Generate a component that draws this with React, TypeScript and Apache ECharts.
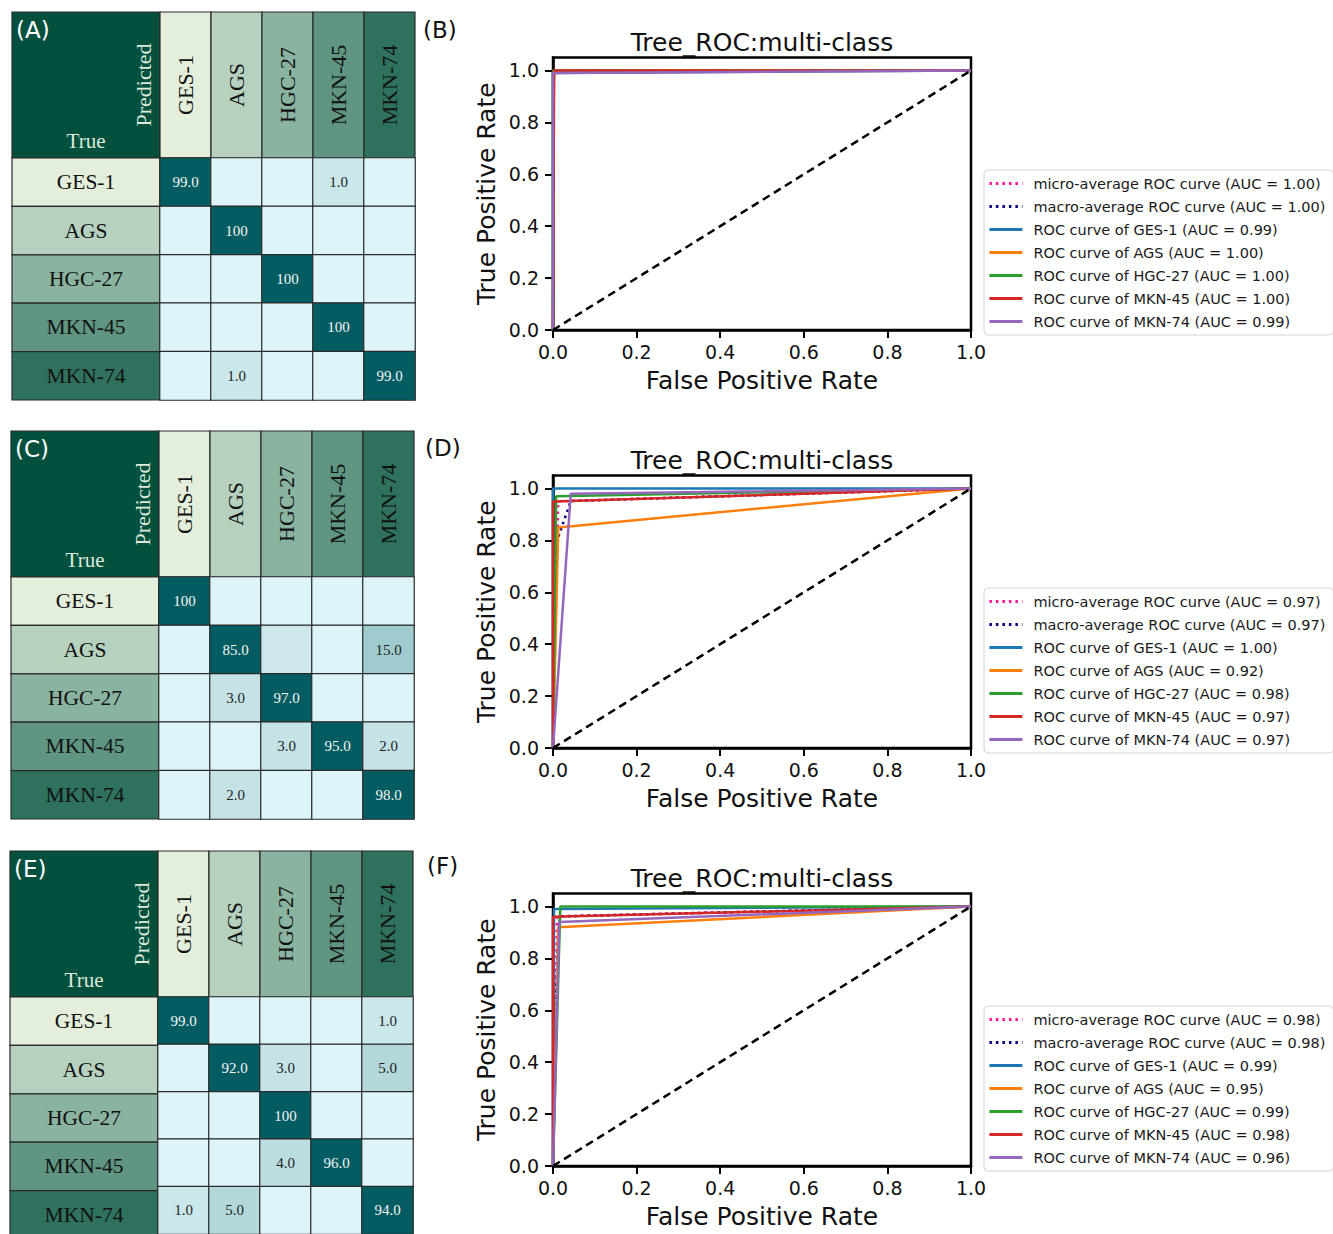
import React, { useEffect, useRef } from "react";
import * as echarts from "echarts";

// ---------- data ----------
const classes = ["GES-1", "AGS", "HGC-27", "MKN-45", "MKN-74"];

// confusion matrices (rows = true, cols = predicted), percent
const matrixA = [
  [99, 0, 0, 1, 0],
  [0, 100, 0, 0, 0],
  [0, 0, 100, 0, 0],
  [0, 0, 0, 100, 0],
  [0, 1, 0, 0, 99],
];
const matrixC = [
  [100, 0, 0, 0, 0],
  [0, 85, 0.2, 0, 15],
  [0, 3, 97, 0, 0],
  [0, 0, 3, 95, 2],
  [0, 2, 0, 0, 98],
];
const matrixE = [
  [99, 0, 0, 0, 1],
  [0, 92, 3, 0, 5],
  [0, 0, 100, 0, 0],
  [0, 0, 4, 96, 0],
  [1, 5, 0, 0, 94],
];

// ROC curves [fpr, tpr]
const microB = [[0, 0], [0.001, 0.996], [1, 1]];
const macroB = [[0, 0.596], [0.0025, 0.996], [1, 1]];
const ges1B = [[0, 0], [0, 0.99], [1, 1]];
const agsB = [[0, 0], [0.0025, 1], [1, 1]];
const hgc27B = [[0, 0], [0, 1], [1, 1]];
const mkn45B = [[0, 0], [0.0025, 1], [1, 1]];
const mkn74B = [[0, 0], [0, 0.99], [1, 1]];
const aucB = ["1.00", "1.00", "0.99", "1.00", "1.00", "1.00", "0.99"];

const microD = [[0, 0], [0.0125, 0.95], [1, 1]];
const macroD = [[0, 0.39], [0.0075, 0.721], [0.0125, 0.812], [0.0425, 0.952], [1, 1]];
const ges1D = [[0, 0], [0, 1], [1, 1]];
const agsD = [[0, 0], [0.0125, 0.85], [1, 1]];
const hgc27D = [[0, 0], [0.0075, 0.97], [1, 1]];
const mkn45D = [[0, 0], [0, 0.95], [1, 1]];
const mkn74D = [[0, 0], [0.0425, 0.98], [1, 1]];
const aucD = ["0.97", "0.97", "1.00", "0.92", "0.98", "0.97", "0.97"];

const microF = [[0, 0], [0.0095, 0.962], [1, 1]];
const macroF = [[0, 0.192], [0.0025, 0.487], [0.0125, 0.874], [0.015, 0.934], [0.0175, 0.962], [1, 1]];
const ges1F = [[0, 0], [0.0025, 0.99], [1, 1]];
const agsF = [[0, 0], [0.0125, 0.92], [1, 1]];
const hgc27F = [[0, 0], [0.0175, 1], [1, 1]];
const mkn45F = [[0, 0], [0, 0.96], [1, 1]];
const mkn74F = [[0, 0], [0.015, 0.94], [1, 1]];
const aucF = ["0.98", "0.98", "0.99", "0.95", "0.99", "0.98", "0.96"];

const diagonal = [[0, 0], [1, 1]];
const tickValues = [0, 0.2, 0.4, 0.6, 0.8, 1.0];
const rocTitle = "Tree_ROC:multi-class";
const cmLabels = ["(A)", "(C)", "(E)"];
const rocLabels = ["(B)", "(D)", "(F)"];

// ---------- styles & layout ----------
const headerColors = ["#e3efdb", "#b6d2bf", "#8bb4a0", "#5f9581", "#2f715f"];
const cornerColor = "#03503f";
const curveColors = ["#ff1493", "#000080", "#1f77b4", "#ff7f0e", "#2ca02c", "#d62728", "#9467bd"];
const DOT: number[] = [2.5, 4];

const HDR_W = 148;
const HDR_H = 146;
const CELL_W = 51;
const CELL_H = 48.4;
const cmLayouts = [
  { left: 12, top: 12 },
  { left: 11, top: 431 },
  { left: 10, top: 851 },
];
const ROC_LEFT = 553;
const ROC_W = 418;
const ROC_H = 272.5;
const rocTops = [57.5, 475.5, 893.5];

const SERIF = "'Liberation Serif', 'DejaVu Serif', serif";
const SANS = "'DejaVu Sans', sans-serif";

function curveNames(auc: string[]) {
  return [
    `micro-average ROC curve (AUC = ${auc[0]})`,
    `macro-average ROC curve (AUC = ${auc[1]})`,
    ...classes.map((c, i) => `ROC curve of ${c} (AUC = ${auc[i + 2]})`),
  ];
}

export default function App() {
  const ref = useRef<HTMLDivElement>(null);

  useEffect(() => {
    if (!ref.current) return;
    const chart = echarts.init(ref.current, undefined, { renderer: "svg" });

    const matrices = [matrixA, matrixC, matrixE];
    const rocSets = [
      [microB, macroB, ges1B, agsB, hgc27B, mkn45B, mkn74B],
      [microD, macroD, ges1D, agsD, hgc27D, mkn45D, mkn74D],
      [microF, macroF, ges1F, agsF, hgc27F, mkn45F, mkn74F],
    ];
    const aucs = [aucB, aucD, aucF];

    const grids: any[] = [];
    const xAxes: any[] = [];
    const yAxes: any[] = [];
    const series: any[] = [];
    const legends: any[] = [];
    const graphics: any[] = [];

    // confusion matrices
    cmLayouts.forEach((lay, m) => {
      grids.push({
        left: lay.left + HDR_W,
        top: lay.top + HDR_H,
        width: CELL_W * 5,
        height: CELL_H * 5,
        show: false,
      });
      xAxes.push({
        type: "category",
        gridIndex: m,
        data: classes,
        axisLine: { show: false },
        axisTick: { show: false },
        axisLabel: { show: false },
        splitLine: { show: false },
      });
      yAxes.push({
        type: "category",
        gridIndex: m,
        data: classes,
        inverse: true,
        axisLine: { show: false },
        axisTick: { show: false },
        axisLabel: { show: false },
        splitLine: { show: false },
      });
      const cells: any[] = [];
      matrices[m].forEach((row, r) => row.forEach((v, c) => cells.push([c, r, v])));
      series.push({
        type: "heatmap",
        xAxisIndex: m,
        yAxisIndex: m,
        data: cells,
        silent: true,
        itemStyle: { borderColor: "#2a2a2a", borderWidth: 1.2 },
        label: {
          show: true,
          formatter: (p: any) => {
            const v = p.value[2];
            if (v < 0.5) return "";
            const s = v >= 100 ? "100" : v.toFixed(1);
            return v >= 50 ? `{w|${s}}` : `{d|${s}}`;
          },
          rich: {
            w: { color: "#f2f6f6", fontFamily: SERIF, fontSize: 15 },
            d: { color: "#222", fontFamily: SERIF, fontSize: 15 },
          },
        },
      });

      // headers
      const stroke = { stroke: "#2a2a2a", lineWidth: 1.2 };
      graphics.push({
        type: "rect",
        shape: { x: lay.left, y: lay.top, width: HDR_W, height: HDR_H },
        style: { fill: cornerColor, ...stroke },
      });
      graphics.push({
        type: "text",
        x: lay.left + 4,
        y: lay.top + 18,
        style: { text: cmLabels[m], font: `23px ${SANS}`, fill: "#ffffff", align: "left", verticalAlign: "middle", textAlign: "left", textVerticalAlign: "middle" },
      });
      graphics.push({
        type: "text",
        x: lay.left + 131,
        y: lay.top + 73,
        rotation: Math.PI / 2,
        style: { text: "Predicted", font: `22px ${SERIF}`, fill: "#dcebdc", align: "center", verticalAlign: "middle", textAlign: "center", textVerticalAlign: "middle" },
      });
      graphics.push({
        type: "text",
        x: lay.left + 74,
        y: lay.top + 129,
        style: { text: "True", font: `21px ${SERIF}`, fill: "#dcebdc", align: "center", verticalAlign: "middle", textAlign: "center", textVerticalAlign: "middle" },
      });
      classes.forEach((c, i) => {
        graphics.push({
          type: "rect",
          shape: { x: lay.left + HDR_W + i * CELL_W, y: lay.top, width: CELL_W, height: HDR_H },
          style: { fill: headerColors[i], ...stroke },
        });
        graphics.push({
          type: "text",
          x: lay.left + HDR_W + (i + 0.5) * CELL_W,
          y: lay.top + HDR_H / 2,
          rotation: Math.PI / 2,
          style: { text: c, font: `22px ${SERIF}`, fill: "#111", align: "center", verticalAlign: "middle", textAlign: "center", textVerticalAlign: "middle" },
        });
        graphics.push({
          type: "rect",
          shape: { x: lay.left, y: lay.top + HDR_H + i * CELL_H, width: HDR_W, height: CELL_H },
          style: { fill: headerColors[i], ...stroke },
        });
        graphics.push({
          type: "text",
          x: lay.left + HDR_W / 2,
          y: lay.top + HDR_H + (i + 0.5) * CELL_H,
          style: { text: c, font: `21.5px ${SERIF}`, fill: "#111", align: "center", verticalAlign: "middle", textAlign: "center", textVerticalAlign: "middle" },
        });
      });
    });

    // ROC plots
    rocTops.forEach((top, k) => {
      const gi = 3 + k;
      grids.push({
        left: ROC_LEFT,
        top,
        width: ROC_W,
        height: ROC_H,
        show: true,
        borderColor: "#000",
        borderWidth: 2.5,
        backgroundColor: "transparent",
      });
      const axisCommon = {
        axisLine: { show: true, onZero: false, lineStyle: { color: "#000", width: 2.5 } },
        axisTick: { show: true, inside: false, length: 8, lineStyle: { color: "#000", width: 2 }, customValues: tickValues },
        splitLine: { show: false },
        nameLocation: "middle",
        nameTextStyle: { fontFamily: SANS, fontSize: 25, color: "#111" },
      };
      xAxes.push({
        type: "value",
        gridIndex: gi,
        min: 0,
        max: 1,
        interval: 0.2,
        ...axisCommon,
        axisLabel: { fontFamily: SANS, fontSize: 19, color: "#111", margin: 12, formatter: (v: number) => v.toFixed(1), customValues: tickValues },
        name: "False Positive Rate",
        nameGap: 38,
      });
      yAxes.push({
        type: "value",
        gridIndex: gi,
        min: 0,
        max: 1.05,
        interval: 0.2,
        ...axisCommon,
        axisLabel: { fontFamily: SANS, fontSize: 19, color: "#111", margin: 14, formatter: (v: number) => v.toFixed(1), customValues: tickValues },
        name: "True Positive Rate",
        nameGap: 54,
      });
      const names = curveNames(aucs[k]);
      rocSets[k].forEach((d, i) => {
        series.push({
          type: "line",
          name: names[i],
          xAxisIndex: gi,
          yAxisIndex: gi,
          data: d,
          symbol: "none",
          silent: true,
          clip: true,
          itemStyle: { color: curveColors[i] },
          lineStyle: { color: curveColors[i], width: 2.5, type: i < 2 ? DOT : "solid" },
          z: 2 + i,
        });
      });
      series.push({
        type: "line",
        name: "chance",
        xAxisIndex: gi,
        yAxisIndex: gi,
        data: diagonal,
        symbol: "none",
        silent: true,
        itemStyle: { color: "#000" },
        lineStyle: { color: "#000", width: 2.5, type: [8, 5] },
        z: 10,
      });
      legends.push({
        orient: "vertical",
        left: 984,
        top: top + 112.5,
        data: names,
        itemWidth: 33,
        itemHeight: 14,
        itemGap: 8,
        padding: [6, 8, 6, 4],
        borderColor: "#d4d4d4",
        borderWidth: 1,
        borderRadius: 4,
        backgroundColor: "#fff",
        selectedMode: false,
        itemStyle: { opacity: 0, borderWidth: 0 },
        lineStyle: { width: 2.8 },
        textStyle: { fontFamily: SANS, fontSize: 14.5, color: "#1a1a1a", padding: [0, 0, 0, 6] },
      });
      graphics.push({
        type: "text",
        x: ROC_LEFT + ROC_W / 2,
        y: top - 15.5,
        style: { text: rocTitle, font: `25px ${SANS}`, fill: "#111", align: "center", verticalAlign: "middle", textAlign: "center", textVerticalAlign: "middle" },
      });
      graphics.push({
        type: "text",
        x: 423 + k * 2,
        y: top - 27.5,
        style: { text: rocLabels[k], font: `23px ${SANS}`, fill: "#111", align: "left", verticalAlign: "middle", textAlign: "left", textVerticalAlign: "middle" },
      });
    });

    chart.setOption({
      animation: false,
      backgroundColor: "#ffffff",
      grid: grids,
      xAxis: xAxes,
      yAxis: yAxes,
      legend: legends,
      visualMap: {
        type: "piecewise",
        show: false,
        seriesIndex: [0, 1, 2],
        dimension: 2,
        pieces: [
          { lte: 0, color: "#ddf5f8" },
          { gt: 0, lt: 0.5, color: "#cce8ec" },
          { gte: 0.5, lt: 1.5, color: "#cae7eb" },
          { gte: 1.5, lt: 3.5, color: "#c5e3e7" },
          { gte: 3.5, lt: 4.5, color: "#bcdde1" },
          { gte: 4.5, lt: 10, color: "#b3d7db" },
          { gte: 10, lt: 50, color: "#9fcbcf" },
          { gte: 50, color: "#035c62" },
        ],
      },
      graphic: { elements: graphics },
      series,
    });

    return () => chart.dispose();
  }, []);

  return (
    <div
      ref={ref}
      style={{ position: "absolute", left: 0, top: 0, width: 1333, height: 1234, background: "#fff" }}
    />
  );
}
